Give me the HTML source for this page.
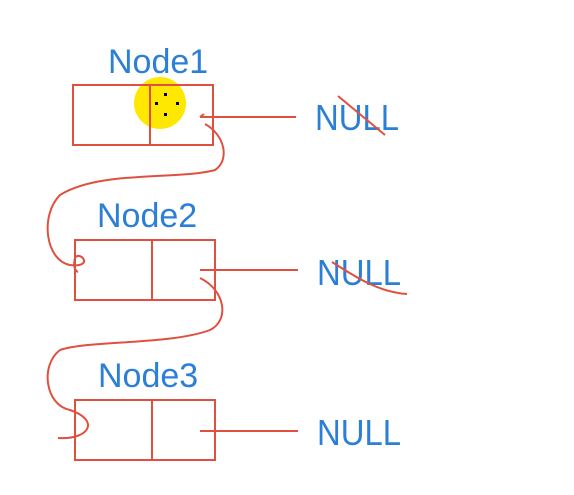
<!DOCTYPE html>
<html><head><style>
body{margin:0;width:574px;height:495px;background:#fff;overflow:hidden}
svg{position:absolute;left:0;top:0}
</style></head><body>
<svg width="574" height="495" xmlns="http://www.w3.org/2000/svg">
<g font-family="Liberation Sans, sans-serif" fill="#2b7fd6" font-size="34">
<text x="108" y="73">Node1</text>
<text x="97" y="227">Node2</text>
<text x="98" y="387">Node3</text>
<text x="315" y="130" font-size="36" textLength="84" lengthAdjust="spacingAndGlyphs">NULL</text>
<text x="317" y="285" font-size="36" textLength="84" lengthAdjust="spacingAndGlyphs">NULL</text>
<text x="317" y="445" font-size="36" textLength="84" lengthAdjust="spacingAndGlyphs">NULL</text>
</g>
<circle cx="160" cy="103" r="26" fill="#ffe800"/>
<g fill="#000"><rect x="164" y="93" width="3" height="3"/><rect x="155" y="102" width="3" height="3"/><rect x="176" y="102" width="3" height="3"/><rect x="164" y="113" width="3" height="3"/></g>
<g fill="none" stroke="#e05040" stroke-width="2">
<rect x="73" y="85" width="140" height="60"/><line x1="150" y1="85" x2="150" y2="145"/>
<rect x="75" y="240" width="140" height="60"/><line x1="152" y1="240" x2="152" y2="300"/>
<rect x="75" y="400" width="140" height="60"/><line x1="152" y1="400" x2="152" y2="460"/>
<path d="M296 117 H200 M200 117 l4 -3"/>
<path d="M298 270 H200"/>
<path d="M298 431 H200"/>
<path d="M338 96 L385 135"/>
<path d="M332 262 C360 280 380 292 407 294"/>
<path d="M205 124 C225 135 230 160 215 170 C180 180 100 170 60 195 C40 215 45 260 70 265 C95 268 80 250 75 258 C72 270 78 272 78 272"/>
<path d="M200 278 C225 290 230 320 210 330 C170 345 90 340 60 350 C40 365 45 405 70 410 C100 420 90 440 58 438"/>
</g>
</svg>
</body></html>
